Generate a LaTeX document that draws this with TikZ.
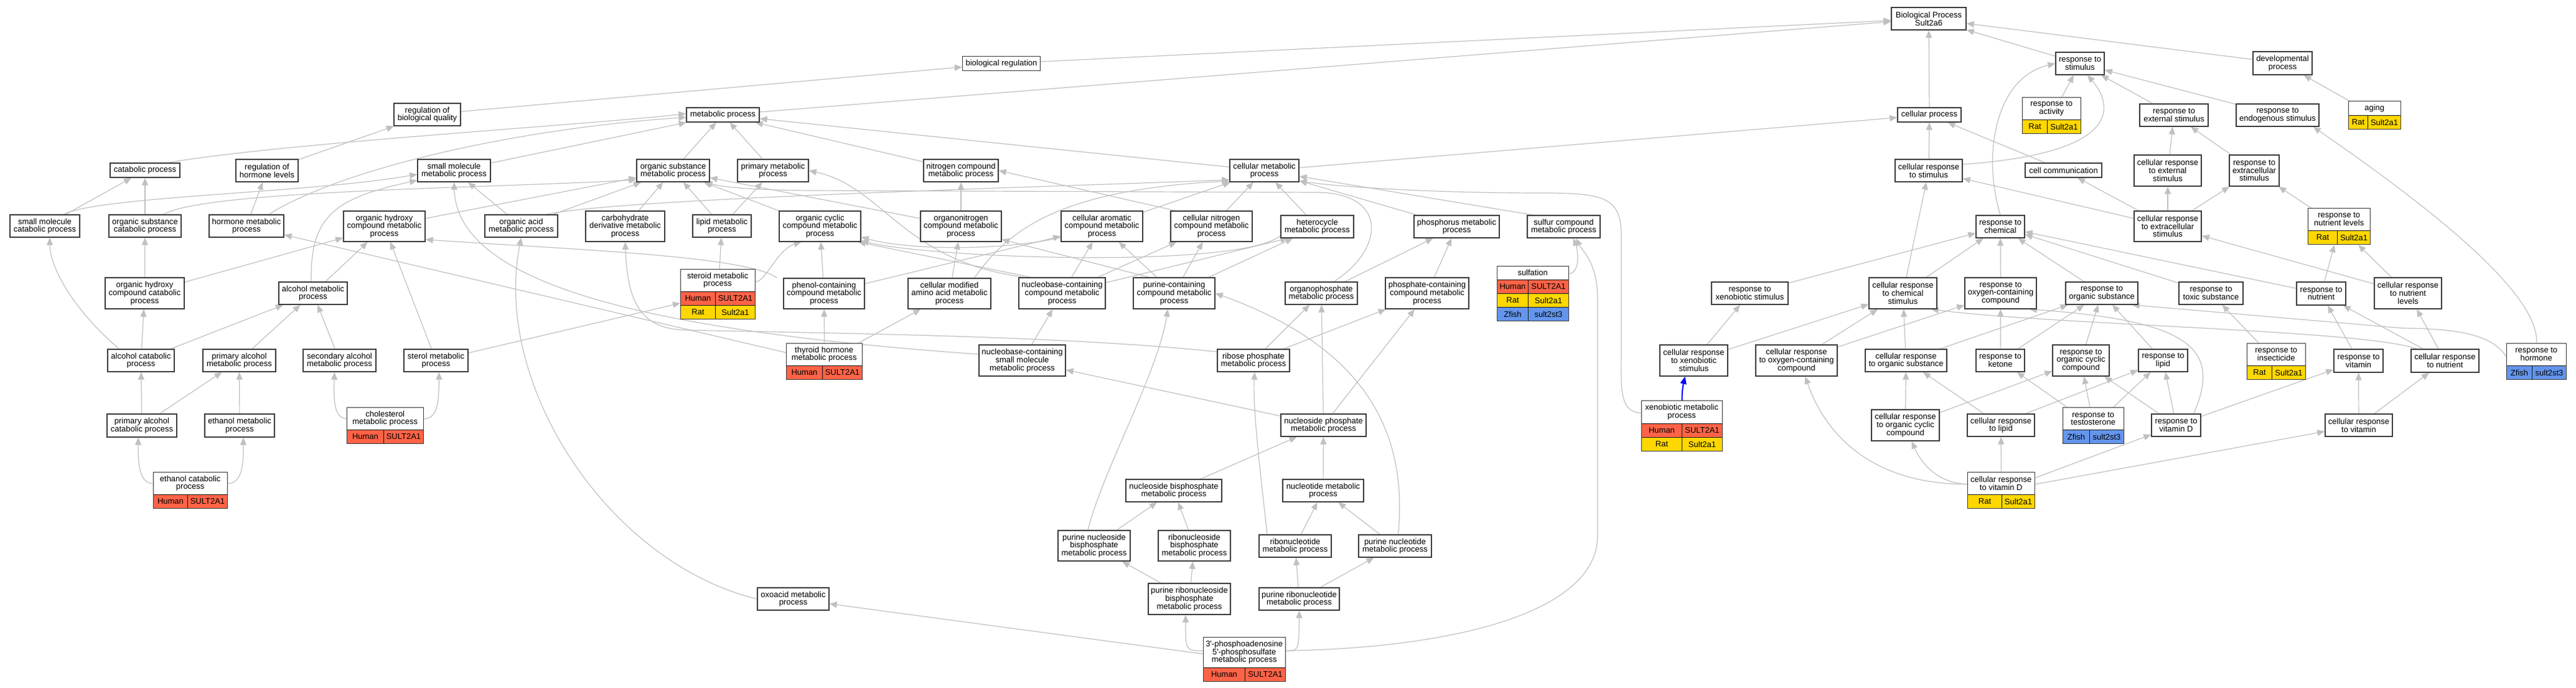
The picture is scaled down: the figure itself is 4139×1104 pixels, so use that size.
\documentclass[tikz,border=0pt]{standalone}
\usepackage{fontspec}
\setmainfont{Liberation Sans}
\usetikzlibrary{arrows.meta}
\definecolor{edgegray}{RGB}{192,192,192}
\definecolor{human}{RGB}{255,99,71}
\definecolor{rat}{RGB}{255,215,0}
\definecolor{zfish}{RGB}{100,149,237}
\definecolor{boxline}{RGB}{60,60,60}
\newcommand\nfont{\fontsize{13}{12.7}\selectfont}
\pgfdeclarelayer{bg}\pgfdeclarelayer{edges}\pgfsetlayers{bg,edges,main}
\tikzset{
 gobox/.style={draw=boxline, line width=1.4pt, fill=white, inner sep=0pt, align=center, font=\nfont},
 gframe/.style={draw=boxline, line width=1.4pt, inner sep=0pt},
 gtitle/.style={fill=white, inner sep=0pt, align=center, font=\nfont},
 gcell/.style={draw=black!90, line width=1pt, inner sep=0pt, minimum height=22, font=\nfont},
 edg/.style={draw=edgegray, line width=1.2pt, -{Triangle[length=12pt,width=10pt]}},
 blueedge/.style={draw=blue, line width=2pt, -{Triangle[length=12pt,width=10pt]}},
}
% plain box: name, cx, cy, w, h, text
\newcommand\bx[6]{\node[gobox, minimum width=#4, minimum height=#5] (#1) at (#2,-#3) {#6};}
% gene title: name, left, top, width, title height, text
\newcommand\gn[6]{\node[gtitle, minimum width=#4, minimum height=#5, anchor=north west] (#1-t) at (#2,-#3) {#6};}
% gene row: name, left, top, width, split x, colour, species, gene
\newcommand\gr[8]{\node[gcell, fill=#6, minimum width=#5-#2, anchor=north west] (#1a) at (#2,-#3) {#7};
 \node[gcell, fill=#6, minimum width=#2+#4-#5, anchor=north west] (#1b) at (#5,-#3) {#8};}
% gene frame: name, left, top, width, height
\newcommand\gf[5]{\node[gframe, minimum width=#4, minimum height=#5, anchor=north west] (#1) at (#2,-#3) {};}
\begin{document}
\begin{tikzpicture}[x=1pt,y=1pt]
\begin{pgfonlayer}{bg}
\fill[white] (0,0) rectangle (4139,-1104);
\end{pgfonlayer}
\useasboundingbox (0,0) rectangle (4139,-1104);
% ---------- plain nodes
\bx{bp}{3099}{30}{120}{36}{Biological Process\\Sult2a6}
\bx{bioreg}{1609}{102}{125}{23}{biological regulation}
\bx{respstim}{3342}{102}{78}{36}{response to\\stimulus}
\bx{devproc}{3667.5}{101.5}{95}{37}{developmental\\process}
\bx{regbq}{686.5}{184}{107}{36}{regulation of\\biological quality}
\bx{metab}{1161.5}{184.5}{117}{23}{metabolic process}
\bx{cellproc}{3100}{184.5}{102}{23}{cellular process}
\bx{respext}{3493}{185}{110}{36}{response to\\external stimulus}
\bx{respendo}{3659.5}{185}{133}{36}{response to\\endogenous stimulus}
\bx{catab}{233}{273.5}{112}{23}{catabolic process}
\bx{reghorm}{429}{274}{100}{36}{regulation of\\hormone levels}
\bx{smmeta}{729.5}{274}{117}{36}{small molecule\\metabolic process}
\bx{orgsub}{1081.5}{274}{117}{36}{organic substance\\metabolic process}
\bx{primeta}{1242}{274}{114}{36}{primary metabolic\\process}
\bx{nitro}{1544}{274}{120}{36}{nitrogen compound\\metabolic process}
\bx{cellmeta}{2031.5}{274}{111}{36}{cellular metabolic\\process}
\bx{cellrespstim}{3099}{274}{108}{36}{cellular response\\to stimulus}
\bx{cellcomm}{3315.5}{273.5}{123}{23}{cell communication}
\bx{cellrespext}{3483}{274}{108}{50}{cellular response\\to external\\stimulus}
\bx{respextra}{3622}{274}{80}{50}{response to\\extracellular\\stimulus}
\bx{smcat}{72}{363}{112}{36}{small molecule\\catabolic process}
\bx{orgsubcat}{233}{363}{116}{36}{organic substance\\catabolic process}
\bx{hormmeta}{396}{363}{120}{36}{hormone metabolic\\process}
\bx{ohcm}{617.5}{363.5}{131}{49}{organic hydroxy\\compound metabolic\\process}
\bx{orgacid}{837.5}{363}{117}{36}{organic acid\\metabolic process}
\bx{carbder}{1004.5}{363.5}{127}{49}{carbohydrate\\derivative metabolic\\process}
\bx{lipid}{1160}{363}{94}{36}{lipid metabolic\\process}
\bx{orgcyc}{1317.5}{363.5}{131}{49}{organic cyclic\\compound metabolic\\process}
\bx{orgnit}{1544}{363.5}{130}{49}{organonitrogen\\compound metabolic\\process}
\bx{cellarom}{1770.5}{363.5}{131}{49}{cellular aromatic\\compound metabolic\\process}
\bx{cellnit}{1946.5}{363.5}{131}{49}{cellular nitrogen\\compound metabolic\\process}
\bx{hetero}{2116.5}{364}{117}{36}{heterocycle\\metabolic process}
\bx{phosph}{2340.5}{364}{137}{36}{phosphorus metabolic\\process}
\bx{sulfur}{2512.5}{364}{117}{36}{sulfur compound\\metabolic process}
\bx{respchem}{3214}{364}{78}{36}{response to\\chemical}
\bx{cellrespextra}{3483}{363.5}{108}{49}{cellular response\\to extracellular\\stimulus}
\bx{ohcc}{232.5}{471}{127}{50}{organic hydroxy\\compound catabolic\\process}
\bx{alcmeta}{503}{471}{110}{36}{alcohol metabolic\\process}
\bx{phenol}{1324}{471.5}{130}{49}{phenol-containing\\compound metabolic\\process}
\bx{cellmodaa}{1525.5}{471.5}{133}{49}{cellular modified\\amino acid metabolic\\process}
\bx{nucbase}{1706.5}{471}{139}{50}{nucleobase-containing\\compound metabolic\\process}
\bx{purcont}{1886.5}{471}{131}{50}{purine-containing\\compound metabolic\\process}
\bx{orgphos}{2123}{471}{116}{36}{organophosphate\\metabolic process}
\bx{phoscont}{2293}{471}{134}{50}{phosphate-containing\\compound metabolic\\process}
\bx{respxeno}{2811.5}{471}{123}{36}{response to\\xenobiotic stimulus}
\bx{cellrespchem}{3057.5}{471}{109}{50}{cellular response\\to chemical\\stimulus}
\bx{respoxy}{3214.5}{471}{115}{50}{response to\\oxygen-containing\\compound}
\bx{resporg}{3377}{471}{116}{36}{response to\\organic substance}
\bx{resptox}{3552.5}{471}{103}{36}{response to\\toxic substance}
\bx{respnut}{3729.5}{471.5}{79}{37}{response to\\nutrient}
\bx{cellrespnutlev}{3869}{471}{108}{50}{cellular response\\to nutrient\\levels}
\bx{alccat}{226.5}{579}{107}{36}{alcohol catabolic\\process}
\bx{primalc}{384.5}{579}{117}{36}{primary alcohol\\metabolic process}
\bx{secalc}{545.5}{579}{117}{36}{secondary alcohol\\metabolic process}
\bx{sterol}{700.5}{579}{103}{36}{sterol metabolic\\process}
\bx{nbsm}{1642.5}{579}{139}{50}{nucleobase-containing\\small molecule\\metabolic process}
\bx{ribphos}{2014}{579}{116}{36}{ribose phosphate\\metabolic process}
\bx{cellrespxeno}{2721.5}{579}{109}{50}{cellular response\\to xenobiotic\\stimulus}
\bx{cellrespoxy}{2886.5}{579}{131}{50}{cellular response\\to oxygen-containing\\compound}
\bx{cellresporg}{3062.5}{579}{131}{36}{cellular response\\to organic substance}
\bx{respket}{3214}{579}{78}{36}{response to\\ketone}
\bx{resporgcyc}{3343.5}{579}{91}{50}{response to\\organic cyclic\\compound}
\bx{resplipid}{3475.5}{579}{79}{36}{response to\\lipid}
\bx{respvit}{3789.5}{579.5}{79}{37}{response to\\vitamin}
\bx{cellrespnut}{3928.5}{579.5}{109}{37}{cellular response\\to nutrient}
\bx{primalccat}{228}{683.5}{112}{37}{primary alcohol\\catabolic process}
\bx{ethmeta}{385}{683.5}{112}{37}{ethanol metabolic\\process}
\bx{nucphos}{2126.5}{683}{137}{36}{nucleoside phosphate\\metabolic process}
\bx{cellresporgcyc}{3061.5}{683}{109}{50}{cellular response\\to organic cyclic\\compound}
\bx{cellresplipid}{3215}{683}{108}{36}{cellular response\\to lipid}
\bx{respvitd}{3496.5}{683}{79}{36}{response to\\vitamin D}
\bx{cellrespvit}{3790}{683}{108}{36}{cellular response\\to vitamin}
\bx{nucbisp}{1886}{788}{154}{36}{nucleoside bisphosphate\\metabolic process}
\bx{nucleot}{2126}{788}{130}{36}{nucleotide metabolic\\process}
\bx{purnucbis}{1758}{876.5}{116}{49}{purine nucleoside\\bisphosphate\\metabolic process}
\bx{ribnucbis}{1919}{876.5}{116}{49}{ribonucleoside\\bisphosphate\\metabolic process}
\bx{ribnucl}{2081}{877}{116}{36}{ribonucleotide\\metabolic process}
\bx{purnucl}{2241.5}{877}{117}{36}{purine nucleotide\\metabolic process}
\bx{oxoacid}{1274.5}{962}{115}{36}{oxoacid metabolic\\process}
\bx{purribnucbis}{1911}{962}{132}{50}{purine ribonucleoside\\bisphosphate\\metabolic process}
\bx{purribnucl}{2087.5}{962}{129}{36}{purine ribonucleotide\\metabolic process}
% ---------- gene nodes
\gn{respact}{3249}{156}{94}{36}{response to\\activity}
\gr{respact-r1}{3249}{192}{94}{3289}{rat}{Rat}{Sult2a1}
\gf{respact}{3249}{156}{94}{58}
\gn{aging}{3773}{162}{84}{23}{aging}
\gr{aging-r1}{3773}{185}{84}{3804}{rat}{Rat}{Sult2a1}
\gf{aging}{3773}{162}{84}{45}
\gn{respnutlev}{3708}{334}{100}{36}{response to\\nutrient levels}
\gr{respnutlev-r1}{3708}{370}{100}{3755}{rat}{Rat}{Sult2a1}
\gf{respnutlev}{3708}{334}{100}{58}
\gn{steroid}{1093}{432}{120}{36}{steroid metabolic\\process}
\gr{steroid-r1}{1093}{468}{120}{1149}{human}{Human}{SULT2A1}
\gr{steroid-r2}{1093}{490}{120}{1149}{rat}{Rat}{Sult2a1}
\gf{steroid}{1093}{432}{120}{80}
\gn{sulfation}{2405}{427}{115}{22}{sulfation}
\gr{sulfation-r1}{2405}{449}{115}{2455}{human}{Human}{SULT2A1}
\gr{sulfation-r2}{2405}{471}{115}{2455}{rat}{Rat}{Sult2a1}
\gr{sulfation-r3}{2405}{493}{115}{2455}{zfish}{Zfish}{sult2st3}
\gf{sulfation}{2405}{427}{115}{88}
\gn{respinsect}{3610}{551}{94}{36}{response to\\insecticide}
\gr{respinsect-r1}{3610}{587}{94}{3650}{rat}{Rat}{Sult2a1}
\gf{respinsect}{3610}{551}{94}{58}
\gn{resphorm}{4027}{551}{96}{36}{response to\\hormone}
\gr{resphorm-r1}{4027}{587}{96}{4068}{zfish}{Zfish}{sult2st3}
\gf{resphorm}{4027}{551}{96}{58}
\gn{thyroid}{1263}{551}{122}{36}{thyroid hormone\\metabolic process}
\gr{thyroid-r1}{1263}{587}{122}{1321}{human}{Human}{SULT2A1}
\gf{thyroid}{1263}{551}{122}{58}
\gn{chol}{557}{654}{123}{36}{cholesterol\\metabolic process}
\gr{chol-r1}{557}{690}{123}{616}{human}{Human}{SULT2A1}
\gf{chol}{557}{654}{123}{58}
\gn{xenometa}{2637}{643}{130}{37}{xenobiotic metabolic\\process}
\gr{xenometa-r1}{2637}{680}{130}{2702}{human}{Human}{SULT2A1}
\gr{xenometa-r2}{2637}{702}{130}{2702}{rat}{Rat}{Sult2a1}
\gf{xenometa}{2637}{643}{130}{81}
\gn{resptest}{3314}{654}{98}{36}{response to\\testosterone}
\gr{resptest-r1}{3314}{690}{98}{3357}{zfish}{Zfish}{sult2st3}
\gf{resptest}{3314}{654}{98}{58}
\gn{ethcat}{246}{758}{119}{36}{ethanol catabolic\\process}
\gr{ethcat-r1}{246}{794}{119}{301}{human}{Human}{SULT2A1}
\gf{ethcat}{246}{758}{119}{58}
\gn{cellrespvitd}{3161}{758}{108}{36}{cellular response\\to vitamin D}
\gr{cellrespvitd-r1}{3161}{794}{108}{3216}{rat}{Rat}{Sult2a1}
\gf{cellrespvitd}{3161}{758}{108}{58}
\gn{paps}{1933}{1023}{132}{49}{3\textquotesingle-phosphoadenosine\\5\textquotesingle-phosphosulfate\\metabolic process}
\gr{paps-r1}{1933}{1072}{132}{2000}{human}{Human}{SULT2A1}
\gf{paps}{1933}{1023}{132}{71}
% ---------- edges
\begin{pgfonlayer}{edges}
\draw[edg] (bioreg) -- (bp);
\draw[edg] (metab) -- (bp);
\draw[edg] (cellproc) -- (bp);
\draw[edg] (respstim) -- (bp);
\draw[edg] (devproc) -- (bp);
\draw[edg] (regbq) -- (bioreg);
\draw[edg] (reghorm) -- (regbq);
\draw[edg] ([xshift=-20pt]catab.north east) .. controls (450,-230) and (950,-200) .. ([yshift=2pt]metab.west);
\draw[edg] ([xshift=-25pt]hormmeta.north east) .. controls (560,-265) and (850,-205) .. ([yshift=-4pt]metab.west);
\draw[edg] (smmeta) -- (metab);
\draw[edg] (orgsub) -- (metab);
\draw[edg] (primeta) -- (metab);
\draw[edg] (nitro) -- (metab);
\draw[edg] (cellmeta) -- (metab);
\draw[edg] (cellmeta) -- (cellproc);
\draw[edg] (hormmeta) -- (reghorm);
\draw[edg] (smcat) -- (catab);
\draw[edg] (orgsubcat) -- (catab);
\draw[edg] ([xshift=30pt]smcat.north) .. controls (160,-315) and (500,-310) .. ([yshift=-6pt]smmeta.west);
\draw[edg] ([xshift=30pt]orgsubcat.north) .. controls (330,-305) and (800,-302) .. ([yshift=4pt]orgsub.south west);
\draw[edg] (ohcc) -- (orgsubcat);
\draw[edg] (ohcc) -- (ohcm);
\draw[edg] (alccat) -- (ohcc);
\draw[edg] ([xshift=-35pt]alccat.north) .. controls (120,-500) and (80,-430) .. ([xshift=8pt]smcat.south);
\draw[edg] (alccat) -- (alcmeta);
\draw[edg] (primalc) -- (alcmeta);
\draw[edg] (secalc) -- (alcmeta);
\draw[edg] (alcmeta) -- (ohcm);
\draw[edg] ([xshift=-3pt]alcmeta.north) .. controls (498,-345) and (540,-318) .. ([yshift=3pt]smmeta.south west);
\draw[edg] (sterol) -- (ohcm);
\draw[edg] (sterol) -- (steroid);
\draw[edg] (primalccat) -- (alccat);
\draw[edg] (primalccat) -- (primalc);
\draw[edg] (ethmeta) -- (primalc);
\draw[edg] ([yshift=11pt]ethcat.west) .. controls (222,-776) and (222,-740) .. ([xshift=-6pt]primalccat.south);
\draw[edg] ([yshift=11pt]ethcat.east) .. controls (391,-776) and (391,-740) .. ([xshift=6pt]ethmeta.south);
\draw[edg] ([yshift=11pt]chol.west) .. controls (536,-672) and (536,-640) .. ([xshift=-8pt]secalc.south);
\draw[edg] ([yshift=11pt]chol.east) .. controls (705,-672) and (705,-640) .. ([xshift=5pt]sterol.south);
\draw[edg] (thyroid) -- (hormmeta);
\draw[edg] (thyroid) -- (phenol);
\draw[edg] (thyroid) -- (cellmodaa);
\draw[edg] (steroid) -- (lipid);
\draw[edg] ([yshift=20pt]steroid.east) .. controls (1230,-452) and (1250,-400) .. ([xshift=-30pt]orgcyc.south);
\draw[edg] (lipid) -- (orgsub);
\draw[edg] (lipid) -- (primeta);
\draw[edg] (carbder) -- (orgsub);
\draw[edg] (orgcyc) -- (orgsub);
\draw[edg] (ohcm) -- (orgsub);
\draw[edg] (orgacid) -- (smmeta);
\draw[edg] (orgacid) -- (orgsub);
\draw[edg] ([xshift=40pt]orgacid.north) .. controls (1000,-318) and (1700,-300) .. ([yshift=4pt]cellmeta.south west);
\draw[edg] ([xshift=-10pt]phenol.north west) .. controls (1200,-410) and (900,-400) .. ([yshift=4pt]ohcm.south east);
\draw[edg] (phenol) -- (orgcyc);
\draw[edg] (phenol) -- (cellarom);
\draw[edg] (orgnit) -- (nitro);
\draw[edg] (orgnit) -- (orgsub);
\draw[edg] (cellmodaa) -- (orgnit);
\draw[edg] ([xshift=40pt]cellmodaa.north) .. controls (1620,-370) and (1700,-305) .. ([yshift=2pt]cellmeta.south west);
\draw[edg] (cellarom) -- (cellmeta);
\draw[edg] ([yshift=-18pt]cellarom.west) .. controls (1600,-405) and (1450,-400) .. ([yshift=8pt]orgcyc.south east);
\draw[edg] (cellnit) -- (cellmeta);
\draw[edg] ([xshift=8pt]cellnit.north west) -- (nitro.east);
\draw[edg] (hetero) -- (cellmeta);
\draw[edg] ([yshift=4pt]hetero.south west) .. controls (1990,-432) and (1500,-415) .. ([yshift=2pt]orgcyc.south east);
\draw[edg] (nucbase) -- (cellarom);
\draw[edg] (nucbase) -- (cellnit);
\draw[edg] (nucbase) -- ([xshift=12pt]hetero.south west);
\draw[edg] ([xshift=-50pt]nucbase.north) -- ([xshift=-5pt]orgcyc.south east);
\draw[edg] ([xshift=-60pt]nucbase.north) .. controls (1450,-420) and (1420,-300) .. (primeta.east);
\draw[edg] (purcont) -- (cellarom);
\draw[edg] (purcont) -- (cellnit);
\draw[edg] (purcont) -- ([xshift=20pt]hetero.south west);
\draw[edg] ([xshift=-40pt]purcont.north) -- ([yshift=4pt]orgnit.south east);
\draw[edg] (nbsm) -- (nucbase);
\draw[edg] ([yshift=10pt]nbsm.west) .. controls (1100,-535) and (735,-470) .. (smmeta.south);
\draw[edg] (ribphos) -- (orgphos);
\draw[edg] (ribphos) -- (phoscont);
\draw[edg] ([yshift=14pt]ribphos.west) .. controls (1700,-538) and (1300,-535) .. (1100,-530) .. controls (1020,-528) and (1008,-470) .. (carbder.south);
\draw[edg] (orgphos) -- (phosph);
\draw[edg] ([xshift=20pt]orgphos.north) .. controls (2225,-400) and (2230,-312) .. (2120,-309) -- (1300,-306) .. controls (1200,-305) and (1160,-300) .. ([xshift=-8pt]orgsub.south east);
\draw[edg] (phoscont) -- (phosph);
\draw[edg] ([yshift=32pt]sulfation.east) .. controls (2540,-437) and (2535,-400) .. ([xshift=15pt]sulfur.south);
\draw[edg] ([xshift=10pt]sulfur.north west) -- (cellmeta);
\draw[edg] (phosph) -- (cellmeta);
\draw[edg] (nucphos) -- (orgphos);
\draw[edg] (nucphos) -- (phoscont);
\draw[edg] (nucphos) -- (nbsm);
\draw[edg] (nucleot) -- (nucphos);
\draw[edg] (nucbisp) -- (nucphos);
\draw[edg] ([xshift=-45pt]ribnucl.north) .. controls (2030,-800) and (2012,-660) .. ([xshift=2pt]ribphos.south);
\draw[edg] (ribnucl) -- (nucleot);
\draw[edg] (purnucl) -- (nucleot);
\draw[edg] ([xshift=5pt]purnucl.north) .. controls (2262,-700) and (2200,-560) .. (purcont.east);
\draw[edg] (purnucbis) -- (nucbisp);
\draw[edg] ([xshift=-10pt]purnucbis.north) .. controls (1770,-760) and (1860,-600) .. ([xshift=-10pt]purcont.south);
\draw[edg] (ribnucbis) -- (nucbisp);
\draw[edg] (purribnucbis) -- (purnucbis);
\draw[edg] (purribnucbis) -- (ribnucbis);
\draw[edg] (purribnucl) -- (ribnucl);
\draw[edg] (purribnucl) -- (purnucl);
\draw[edg] ([yshift=14pt]paps.west) .. controls (1905,-1045) .. ([xshift=-6pt]purribnucbis.south);
\draw[edg] ([yshift=14pt]paps.east) .. controls (2087,-1045) .. (purribnucl.south);
\draw[edg] (paps) -- (oxoacid);
\draw[edg] ([yshift=14pt]paps.east) .. controls (2350,-1040) and (2567,-980) .. (2567,-860) -- (2567,-480) .. controls (2567,-420) and (2540,-400) .. ([xshift=20pt]sulfur.south);
\draw[edg] (oxoacid.west) .. controls (980,-905) and (790,-620) .. (orgacid.south);
\draw[edg] ([yshift=21pt]xenometa.west) .. controls (2600,-662) and (2605,-620) .. (2605,-560) -- (2605,-380) .. controls (2605,-318) and (2580,-310) .. (2480,-310) .. controls (2300,-310) and (2150,-300) .. ([yshift=2pt]cellmeta.south east);
\draw[blueedge] (xenometa.north) .. controls (2702,-630) and (2705,-615) .. ([xshift=-14pt]cellrespxeno.south);
% right part
\draw[edg] (respact) -- (respstim);
\draw[edg] (cellrespstim) -- (cellproc);
\draw[edg] (cellcomm) -- (cellproc);
\draw[edg] ([yshift=10pt]cellrespstim.east) .. controls (3420,-245) and (3392,-165) .. ([xshift=12pt]respstim.south);
\draw[edg] (respchem.north) .. controls (3185,-250) and (3205,-125) .. (respstim.west);
\draw[edg] (respext) -- (respstim);
\draw[edg] (respendo) -- (respstim);
\draw[edg] (cellrespext) -- (respext);
\draw[edg] (respextra) -- (respext);
\draw[edg] (cellrespextra) -- (cellcomm);
\draw[edg] (cellrespextra) -- (cellrespstim);
\draw[edg] (cellrespextra) -- (cellrespext);
\draw[edg] (cellrespextra) -- (respextra);
\draw[edg] (respnutlev) -- (respextra);
\draw[edg] (aging) -- (devproc);
\draw[edg] (resphorm.north) .. controls (4080,-470) and (3900,-330) .. ([xshift=-10pt]respendo.south east);
\draw[edg] ([yshift=8pt]resphorm.west) .. controls (4005,-540) and (3960,-528) .. (3860,-527) -- ([xshift=-10pt]resporg.south east);
\draw[edg] (respinsect) -- (resptox);
\draw[edg] (resptox) -- (respchem);
\draw[edg] (respnut) -- (respchem);
\draw[edg] (respnut) -- (respnutlev);
\draw[edg] (cellrespnutlev) -- (respnutlev);
\draw[edg] (cellrespnutlev) -- (cellrespextra);
\draw[edg] (cellrespnut) -- (cellrespnutlev);
\draw[edg] (cellrespnut) -- (respnut);
\draw[edg] ([xshift=10pt]cellrespnut.north west) .. controls (3800,-530) and (3300,-522) .. ([xshift=-10pt]cellrespchem.south east);
\draw[edg] (respvit) -- (respnut);
\draw[edg] (cellrespvit) -- (respvit);
\draw[edg] (cellrespvit) -- (cellrespnut);
\draw[edg] (respvitd) -- (respvit);
\draw[edg] (respvitd) -- (resplipid);
\draw[edg] (respvitd) -- (resporgcyc);
\draw[edg] ([xshift=-12pt]respvitd.north east) .. controls (3570,-560) and (3520,-515) .. ([xshift=-12pt]respoxy.south east);
\draw[edg] (resptest) -- (respket);
\draw[edg] (resptest) -- (resplipid);
\draw[edg] (resptest) -- (resporgcyc);
\draw[edg] (cellresplipid) -- (cellresporg);
\draw[edg] ([xshift=-15pt]cellresplipid.north east) -- (resplipid);
\draw[edg] (cellresporgcyc) -- (cellresporg);
\draw[edg] (cellresporgcyc) -- (resporgcyc);
\draw[edg] (cellrespvitd) -- (cellresplipid);
\draw[edg] ([yshift=10pt]cellrespvitd.west) .. controls (3110,-776) and (3085,-740) .. ([xshift=10pt]cellresporgcyc.south);
\draw[edg] ([yshift=10pt]cellrespvitd.west) .. controls (3000,-778) and (2930,-690) .. ([xshift=14pt]cellrespoxy.south);
\draw[edg] (cellrespvitd) -- (respvitd);
\draw[edg] (cellrespvitd) -- (cellrespvit);
\draw[edg] (cellresporg) -- (cellrespchem);
\draw[edg] (cellresporg) -- (resporg);
\draw[edg] (respket) -- (respoxy);
\draw[edg] (respket) -- (resporg);
\draw[edg] (resporgcyc) -- (resporg);
\draw[edg] (resplipid) -- (resporg);
\draw[edg] (cellrespoxy) -- (cellrespchem);
\draw[edg] (cellrespoxy) -- (respoxy);
\draw[edg] (cellrespxeno) -- (respxeno);
\draw[edg] (cellrespxeno) -- (cellrespchem);
\draw[edg] (respxeno) -- (respchem);
\draw[edg] (cellrespchem) -- (respchem);
\draw[edg] (cellrespchem) -- (cellrespstim);
\draw[edg] (respoxy) -- (respchem);
\draw[edg] (resporg) -- (respchem);
\end{pgfonlayer}
\end{tikzpicture}
\end{document}
